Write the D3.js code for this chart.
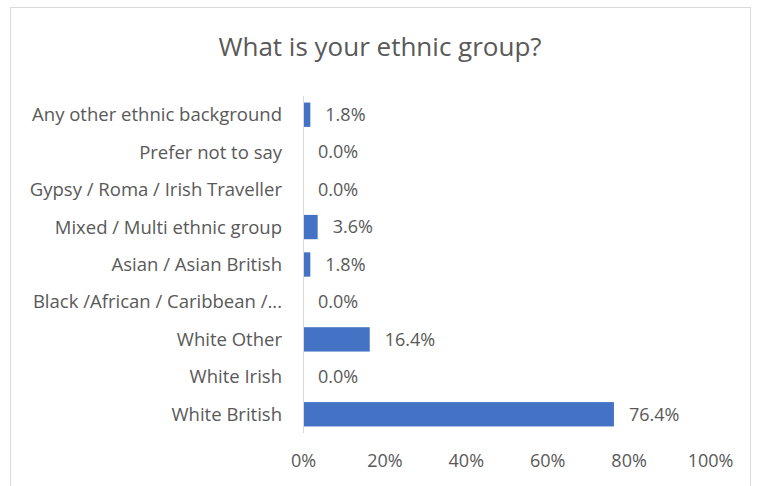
<!DOCTYPE html>
<html>
<head>
<meta charset="utf-8">
<script src="https://cdn.jsdelivr.net/npm/d3@7"></script>
<style>
  body { margin: 0; background: #fff; }
  text { font-family: "Open Sans", sans-serif; fill: #595959; }
</style>
</head>
<body>
<svg class="svgMain" width="757" height="486"></svg>
<script>
// Survey answers, top to bottom as drawn.
const categories = [
    "Any other ethnic background",
    "Prefer not to say",
    "Gypsy / Roma / Irish Traveller",
    "Mixed / Multi ethnic group",
    "Asian / Asian British",
    "Black /African / Caribbean /...",
    "White Other",
    "White Irish",
    "White British"
];
const shares = [1.8, 0.0, 0.0, 3.6, 1.8, 0.0, 16.4, 0.0, 76.4];
const tickValues = [0, 20, 40, 60, 80, 100];

let svgMain = d3.select(".svgMain");

// Chart frame.
svgMain.append("rect")
    .attr("x", 10.5).attr("y", 7.5)
    .attr("width", 740).attr("height", 490)
    .attr("fill", "white").attr("stroke", "#d9d9d9").attr("stroke-width", 1);

// Title.
svgMain.append("text")
    .text("What is your ethnic group?")
    .attr("x", 380).attr("y", 56)
    .attr("text-anchor", "middle")
    .attr("font-size", "26px");

let x = d3.scaleLinear().domain([0, 100]).range([303, 710]);
let y = d3.scaleBand().domain(categories).range([96, 433]).paddingInner(0.35).paddingOuter(0.175);

// Bars.
svgMain.selectAll(".bar")
    .data(categories)
    .enter().append("rect")
    .attr("class", "bar")
    .attr("x", x(0))
    .attr("y", d => y(d))
    .attr("width", (d, i) => x(shares[i]) - x(0))
    .attr("height", y.bandwidth())
    .attr("fill", "#4472C4");

// Vertical axis line and category labels.
svgMain.append("line")
    .attr("x1", x(0) + 0.5).attr("x2", x(0) + 0.5)
    .attr("y1", 96).attr("y2", 433)
    .attr("stroke", "#d9d9d9");
svgMain.selectAll(".catLabel")
    .data(categories)
    .enter().append("text")
    .attr("class", "catLabel")
    .text(d => d)
    .attr("x", 282)
    .attr("y", d => y(d) + y.bandwidth() / 2)
    .attr("dy", "0.35em")
    .attr("text-anchor", "end")
    .attr("font-size", "18.5px");

// Value labels at bar ends.
svgMain.selectAll(".valLabel")
    .data(shares)
    .enter().append("text")
    .attr("class", "valLabel")
    .text(d => d.toFixed(1) + "%")
    .attr("x", d => x(d) + 15)
    .attr("y", (d, i) => y(categories[i]) + y.bandwidth() / 2)
    .attr("dy", "0.35em")
    .attr("font-size", "18px");

// Bottom axis tick labels.
let xAxis = svgMain.append("g")
    .attr("transform", "translate(0,451)")
    .call(d3.axisBottom(x).tickValues(tickValues).tickFormat(d => d + "%").tickSize(0).tickPadding(0));
xAxis.select(".domain").remove();
xAxis.selectAll("text")
    .attr("font-size", "18px")
    .attr("font-family", null)
    .attr("dy", "0.9em")
    .style("fill", "#595959");
</script>
</body>
</html>
